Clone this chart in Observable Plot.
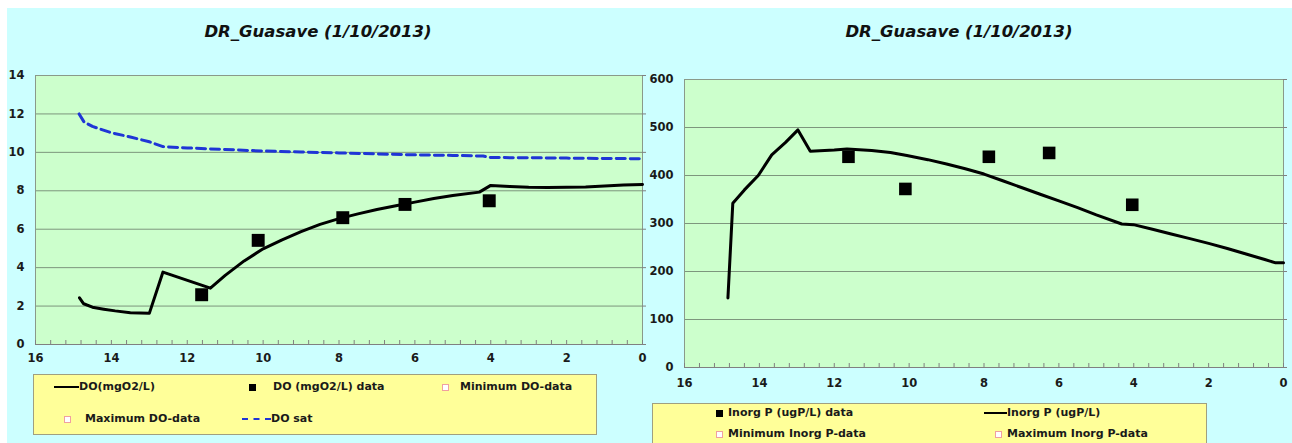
<!DOCTYPE html>
<html>
<head>
<meta charset="utf-8">
<script src="https://cdn.jsdelivr.net/npm/d3@7"></script>
<script src="https://cdn.jsdelivr.net/npm/@observablehq/plot@0.6"></script>
<style>
  html, body { margin: 0; padding: 0; background: #ffffff; }
  #page { position: relative; width: 1292px; height: 443px; overflow: hidden; background: #ffffff; }
  #bg { position: absolute; left: 7px; top: 8px; right: 0; bottom: 0; background: #ccffff; }
  .title { position: absolute; top: 22px; font-family: "DejaVu Sans", sans-serif; font-weight: bold; font-style: italic; font-size: 16.5px; color: #111; white-space: nowrap; transform: translateX(-50%); }
  .chart { position: absolute; }
  .legend { position: absolute; background: #ffff99; border: 1px solid #a0a080; box-sizing: border-box; }
  .lt { position: absolute; font-family: "DejaVu Sans", sans-serif; font-weight: bold; font-size: 11px; color: #1a1a1a; white-space: nowrap; line-height: 14px; }
  .sq { position: absolute; width: 7px; height: 7px; box-sizing: border-box; }
  .sq.fill { background: #000; }
  .sq.open { background: #fff; border: 1px solid #f0a0a0; }
  .ln { position: absolute; height: 0; }
</style>
</head>
<body>
<div id="page">
  <div id="bg"></div>
  <div class="title" style="left:318px">DR_Guasave (1/10/2013)</div>
  <div class="title" style="left:959px">DR_Guasave (1/10/2013)</div>
  <div id="c1" class="chart" style="left:0px; top:60px"></div>
  <div id="c2" class="chart" style="left:645px; top:60px"></div>
  <div class="legend" style="left:33px; top:374px; width:564px; height:61px"></div>
  <div class="legend" style="left:652px; top:403px; width:555px; height:50px"></div>
  <div id="legendItems"></div>
</div>
<script>
// ---------- data ----------
const xTicks = [16, 14, 12, 10, 8, 6, 4, 2, 0];
const yTicksDO = [0, 2, 4, 6, 8, 10, 12, 14];
const yTicksP = [0, 100, 200, 300, 400, 500, 600];

// DO model (mgO2/L) vs distance (km)
const doX = [14.84, 14.73, 14.5, 14.2, 13.9, 13.5, 13.0, 12.64, 11.39, 11.0, 10.5, 10.0, 9.5, 9.0, 8.5, 8.0, 7.5, 7.0, 6.5, 6.0, 5.5, 5.0, 4.3, 4.0, 3.5, 3.0, 2.5, 2.0, 1.5, 1.0, 0.5, 0.0];
const doY = [2.43, 2.12, 1.94, 1.84, 1.75, 1.65, 1.62, 3.77, 2.93, 3.6, 4.35, 4.98, 5.45, 5.87, 6.25, 6.55, 6.8, 7.03, 7.22, 7.41, 7.6, 7.76, 7.93, 8.28, 8.22, 8.18, 8.17, 8.18, 8.2, 8.25, 8.3, 8.33];

// DO saturation
const satX = [14.85, 14.72, 14.5, 14.0, 13.5, 13.0, 12.64, 12.0, 11.0, 10.0, 9.0, 8.0, 7.0, 6.0, 5.0, 4.2, 4.0, 3.0, 2.0, 1.0, 0.0];
const satY = [12.0, 11.58, 11.35, 11.02, 10.8, 10.55, 10.3, 10.23, 10.15, 10.07, 10.02, 9.97, 9.92, 9.87, 9.84, 9.81, 9.73, 9.72, 9.7, 9.68, 9.67];

// DO data
const doDataX = [11.62, 10.13, 7.90, 6.26, 4.04];
const doDataY = [2.59, 5.42, 6.6, 7.29, 7.48];

// Inorganic P model (ugP/L)
const pX = [14.84, 14.71, 14.4, 14.03, 13.67, 13.3, 12.97, 12.64, 12.0, 11.66, 11.0, 10.5, 10.06, 9.5, 9.0, 8.5, 8.0, 7.5, 7.0, 6.5, 6.0, 5.5, 5.0, 4.32, 4.01, 3.5, 3.0, 2.5, 2.0, 1.5, 1.0, 0.5, 0.21, 0.0];
const pY = [145, 342, 370, 400, 443, 469, 495, 450.5, 453, 455, 452, 448, 441.5, 433, 424, 414, 403, 389, 375, 361, 347, 333, 318, 299, 297.6, 288, 278, 268.5, 258.5, 248, 236.5, 225, 218, 218];

// Inorganic P data
const pDataX = [11.62, 10.10, 7.87, 6.26, 4.04];
const pDataY = [439, 372, 439, 447, 339];

// ---------- helpers ----------
const minorTicks = d3.range(0, 16.0001, 0.4);
const zip = (xs, ys) => xs.map((x, i) => ({x, y: ys[i]}));

function makeChart({width, height, mL, mR, mT, mB, yDomain, yTicks, tickPad, lines, dots}) {
  const plotW = width - mL - mR;
  const plotH = height - mT - mB;
  return Plot.plot({
    width, height,
    marginLeft: mL, marginRight: mR, marginTop: mT, marginBottom: mB,
    style: {background: "transparent", fontFamily: "DejaVu Sans", fontSize: "11.5px", fontWeight: "bold", color: "#1a1a1a", overflow: "visible"},
    x: {domain: [16, 0]},
    y: {domain: yDomain},
    marks: [
      Plot.frame({fill: "#ccffcc", stroke: null}),
      Plot.gridY(yTicks, {stroke: "#7d967d", strokeOpacity: 1, strokeWidth: 1}),
      Plot.frame({stroke: "#8a9a8a", fill: null}),
      Plot.ruleY([yDomain[0]], {stroke: "#808080", strokeWidth: 1.2}),
      Plot.tickX(minorTicks, {x: d => d, insetTop: plotH - 4, stroke: "#808080"}),
      Plot.tickY(yTicks, {y: d => d, insetLeft: plotW, insetRight: -4, stroke: "#808080"}),
      ...lines,
      ...dots,
      Plot.axisX(xTicks, {tickSize: 0, tickPadding: tickPad, label: null}),
      Plot.axisY(yTicks, {tickSize: 0, tickPadding: 11, label: null})
    ]
  });
}

const chart1 = makeChart({
  width: 650, height: 310, mL: 35, mR: 8, mT: 15, mB: 26,
  yDomain: [0, 14], yTicks: yTicksDO, tickPad: 9,
  lines: [
    Plot.line(zip(satX, satY), {x: "x", y: "y", stroke: "#1f35d6", strokeWidth: 3, strokeDasharray: "9,5"}),
    Plot.line(zip(doX, doY), {x: "x", y: "y", stroke: "#000", strokeWidth: 3})
  ],
  dots: [Plot.dot(zip(doDataX, doDataY), {x: "x", y: "y", symbol: "square", r: 7.3, fill: "#000", stroke: null})]
});
document.getElementById("c1").append(chart1);

const chart2 = makeChart({
  width: 647, height: 330, mL: 39, mR: 9, mT: 19, mB: 23,
  yDomain: [0, 600], yTicks: yTicksP, tickPad: 11,
  lines: [Plot.line(zip(pX, pY), {x: "x", y: "y", stroke: "#000", strokeWidth: 3})],
  dots: [Plot.dot(zip(pDataX, pDataY), {x: "x", y: "y", symbol: "square", r: 7.1, fill: "#000", stroke: null})]
});
document.getElementById("c2").append(chart2);

// ---------- legends ----------
const legendLeft = [
  {kind: "line", x: 54, w: 25, y: 387, tx: 79, label: "DO(mgO2/L)"},
  {kind: "fill", x: 249, y: 387, tx: 273, label: "DO (mgO2/L) data"},
  {kind: "open", x: 442, y: 387, tx: 460, label: "Minimum DO-data"},
  {kind: "open", x: 64, y: 419, tx: 85, label: "Maximum DO-data"},
  {kind: "dash", x: 242, w: 29, y: 419, tx: 271, label: "DO sat"}
];
const legendRight = [
  {kind: "fill", x: 716, y: 413, tx: 728, label: "Inorg P (ugP/L) data"},
  {kind: "line", x: 984, w: 23, y: 413, tx: 1007, label: "Inorg P (ugP/L)"},
  {kind: "open", x: 716, y: 434, tx: 728, label: "Minimum Inorg P-data"},
  {kind: "open", x: 995, y: 434, tx: 1007, label: "Maximum Inorg P-data"}
];
const holder = document.getElementById("legendItems");
for (const it of [...legendLeft, ...legendRight]) {
  if (it.kind === "line" || it.kind === "dash") {
    const l = document.createElement("div");
    l.className = "ln";
    l.style.left = it.x + "px";
    l.style.top = (it.y - 1) + "px";
    l.style.width = it.w + "px";
    l.style.borderTop = it.kind === "line" ? "2.5px solid #000" : "2.5px dashed #1f35d6";
    holder.append(l);
  } else {
    const s = document.createElement("div");
    s.className = "sq " + it.kind;
    s.style.left = it.x + "px";
    s.style.top = (it.y - 3.5) + "px";
    holder.append(s);
  }
  const t = document.createElement("div");
  t.className = "lt";
  t.style.left = it.tx + "px";
  t.style.top = (it.y - 7) + "px";
  t.textContent = it.label;
  holder.append(t);
}
</script>
</body>
</html>
